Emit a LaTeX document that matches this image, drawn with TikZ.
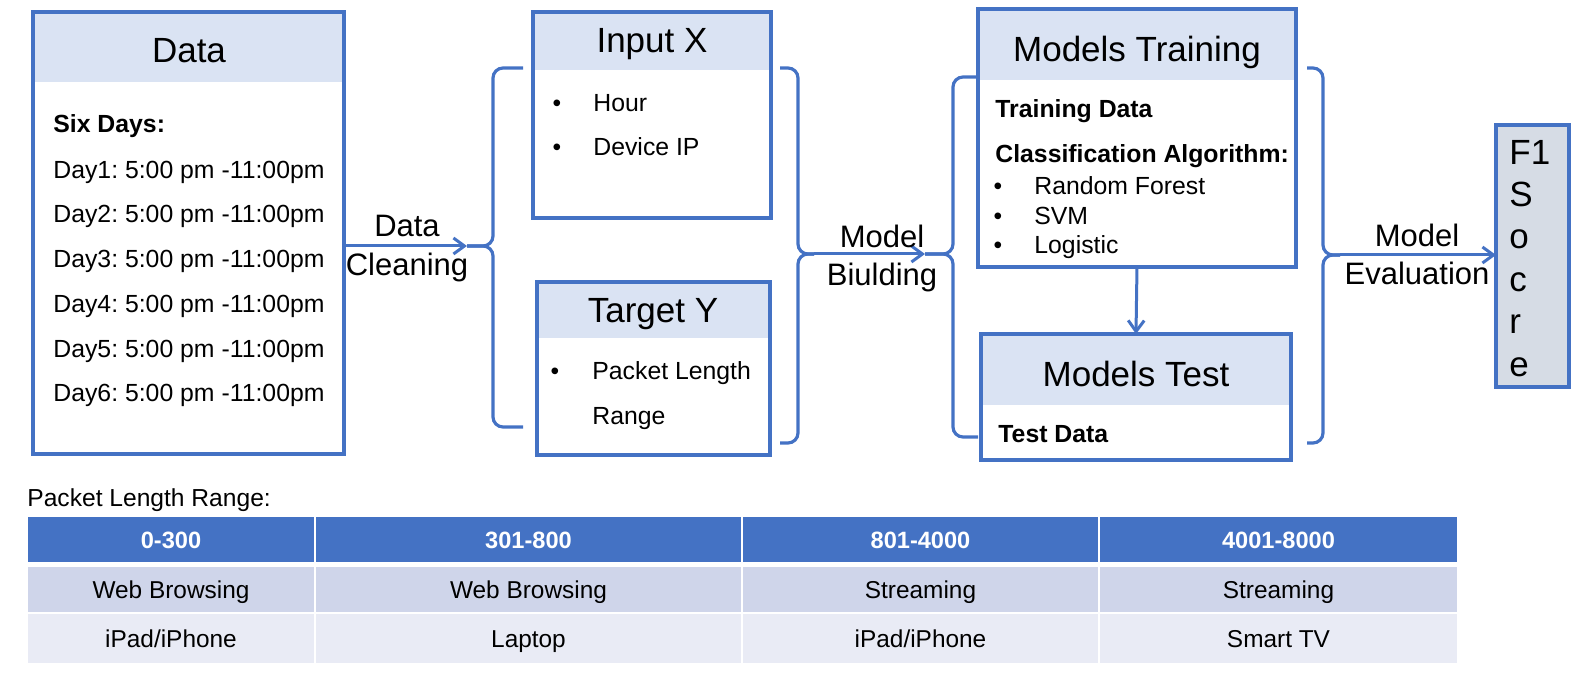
\documentclass[tikz,border=0pt]{standalone}
\usepackage{fontspec}
\setmainfont{Liberation Sans}
\usetikzlibrary{arrows.meta}
\definecolor{bl}{HTML}{4472C4}
\definecolor{hd}{HTML}{DAE3F3}
\definecolor{fsc}{HTML}{D6DCE5}
\definecolor{ra}{HTML}{CFD5EA}
\definecolor{rb}{HTML}{E9EBF5}
\frenchspacing
\newcommand\fsz[1]{\fontsize{#1}{#1}\selectfont}
\newcommand\mkbox[7]{% name,x1,y1,x2,y2,yh,fill
  \fill[#7] (#2,#3) rectangle (#4,#6);
  \node[boxst, minimum width={(#4-#2)*0.5pt}, minimum height={(#5-#3)*0.5pt}] (#1) at (#2,#3) {};}
\newcommand\mkcell[7]{% name,x1,y1,x2,y2,style,text
  \node[cellst,#6, minimum width={(#4-#2)*0.5pt}, minimum height={(#5-#3)*0.5pt}] (#1) at (#2,#3) {#7};}
\begin{document}
\begin{tikzpicture}[x=0.5pt,y=-0.5pt,
  boxst/.style={draw=bl,line width=1.6pt,inner sep=0pt,outer sep=0pt,anchor=north west},
  ttl/.style={inner sep=0pt,anchor=base,font=\fsz{17.5}},
  txt/.style={inner sep=0pt,anchor=base west,font=\fsz{12.4}},
  btxt/.style={inner sep=0pt,anchor=base west,font=\fsz{12.4}\bfseries},
  bul/.style={inner sep=0pt,anchor=base,font=\fsz{12.3}},
  lbl/.style={inner sep=0pt,anchor=base,font=\fsz{15.5}},
  br/.style={draw=bl,line width=1.6pt,rounded corners=5pt},
  arr/.style={draw=bl,line width=1.5pt,-{Straight Barb[length=5.5pt,width=8pt]}},
  cellst/.style={anchor=north west,inner sep=0pt,outer sep=0pt,text height=8.7pt,text depth=0pt,font=\fsz{12.2}},
  hdcell/.style={fill=bl,text=white,font=\fsz{11.8}\bfseries},
]
\useasboundingbox (0,0) rectangle (1581,678);

% ---------- Data box ----------
\mkbox{data}{33}{12}{344}{454}{82}{hd}
\node[ttl] (tdata) at (189,63) {Data};
\node[btxt] (six) at (53,133) {Six Days:};
\foreach \d/\y in {1/179,2/223,3/268,4/313,5/358,6/402}
  \node[txt] (day\d) at (53,\y) {Day\d: 5:00 pm -11:00pm};

% ---------- Input X ----------
\mkbox{inx}{533}{12}{771}{218}{70}{hd}
\node[ttl] (tinx) at (652,53) {Input X};
\node[bul] (bx1) at (557,112) {•};
\node[txt] (hour) at (593,112) {Hour};
\node[bul] (bx2) at (557,156) {•};
\node[txt] (dip) at (593,156) {Device IP};

% ---------- Target Y ----------
\mkbox{tgy}{537}{282}{770}{455}{338}{hd}
\node[ttl] (ttgy) at (653,323) {Target Y};
\node[bul] (by1) at (555,380) {•};
\node[txt] (plr1) at (592,380) {Packet Length};
\node[txt] (plr2) at (592,425) {Range};

% ---------- Models Training ----------
\mkbox{mtrain}{978}{9}{1296}{267}{80}{hd}
\node[ttl] (tmtrain) at (1137,62) {Models Training};
\node[btxt] (trd) at (995,118) {Training Data};
\node[btxt] (cla) at (995,163) {Classification Algorithm:};
\foreach \n/\t/\y in {1/Random Forest/195,2/SVM/225,3/Logistic/254}{
  \node[bul] (bm\n) at (998,\y) {•};
  \node[txt] (alg\n) at (1034,\y) {\t};
}

% ---------- Models Test ----------
\mkbox{mtest}{981}{334}{1291}{460}{405}{hd}
\node[ttl] (tmtest) at (1136,387) {Models Test};
\node[btxt] (ted) at (998,443) {Test Data};

% ---------- F1 Score ----------
\mkbox{f1}{1496}{125}{1569}{387}{387}{fsc}
\foreach \n/\t/\y in {1/F1/165,2/S/207,3/o/249,4/c/292,5/r/334,6/e/377}
  \node[inner sep=0pt,anchor=base west,font=\fsz{17.5}] (sc\n) at (1509,\y) {\t};

% ---------- Braces ----------
\coordinate (b1) at (467,246);
\draw[br] (523,68) -- (493,68) -- (493,246) -- (b1);
\draw[br] (b1) -- (493,246) -- (493,427) -- (523,427);

\coordinate (b2) at (814,254);
\draw[br] (780,68) -- (798,68) -- (798,254) -- (b2);
\draw[br] (b2) -- (798,254) -- (798,443) -- (780,443);

\coordinate (b3) at (925,254);
\draw[br] (978,77) -- (953,77) -- (953,254) -- (b3);
\draw[br] (b3) -- (953,254) -- (953,437) -- (978,437);

\coordinate (b4) at (1340,255);
\draw[br] (1307,68) -- (1323,68) -- (1323,255) -- (b4);
\draw[br] (b4) -- (1323,255) -- (1323,443) -- (1307,443);

% ---------- Arrows and labels ----------
\draw[arr] (data.east |- b1) -- (b1);
\node[lbl] (lc1) at (407,237) {Data};
\node[lbl] (lc2) at (407,276) {Cleaning};

\draw[arr] (b2) -- (b3);
\node[lbl] (lb1) at (882,248) {Model};
\node[lbl] (lb2) at (882,286) {Biulding};

\draw[arr] (mtrain.south) -- (mtest.north);

\draw[arr] (b4) -- (f1.west |- b4);
\node[lbl] (le1) at (1417,247) {Model};
\node[lbl] (le2) at (1417,285) {Evaluation};

% ---------- Table ----------
\node[inner sep=0pt,anchor=base west,font=\fsz{12.3}] (plr) at (27,507) {Packet Length Range:};
\mkcell{h1}{28}{517}{314}{562}{hdcell}{0-300}
\mkcell{h2}{316}{517}{741}{562}{hdcell}{301-800}
\mkcell{h3}{743}{517}{1098}{562}{hdcell}{801-4000}
\mkcell{h4}{1100}{517}{1457}{562}{hdcell}{4001-8000}
\mkcell{r11}{28}{567}{314}{612}{fill=ra}{Web Browsing}
\mkcell{r12}{316}{567}{741}{612}{fill=ra}{Web Browsing}
\mkcell{r13}{743}{567}{1098}{612}{fill=ra}{Streaming}
\mkcell{r14}{1100}{567}{1457}{612}{fill=ra}{Streaming}
\mkcell{r21}{28}{614}{314}{663}{fill=rb}{iPad/iPhone}
\mkcell{r22}{316}{614}{741}{663}{fill=rb}{Laptop}
\mkcell{r23}{743}{614}{1098}{663}{fill=rb}{iPad/iPhone}
\mkcell{r24}{1100}{614}{1457}{663}{fill=rb}{Smart TV}
\end{tikzpicture}
\end{document}
